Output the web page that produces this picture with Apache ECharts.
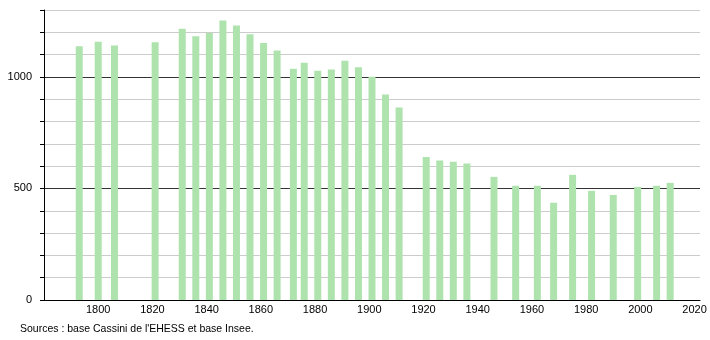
<!DOCTYPE html>
<html>
<head>
<meta charset="utf-8">
<script src="https://cdn.jsdelivr.net/npm/echarts@6/dist/echarts.min.js"></script>
<style>
html,body{margin:0;padding:0;background:#fff;}
#c{width:710px;height:340px;}
</style>
</head>
<body>
<div id="c"></div>
<script>
const years = [1793,1800,1806,1821,1831,1836,1841,1846,1851,1856,1861,1866,1872,1876,1881,1886,1891,1896,1901,1906,1911,1921,1926,1931,1936,1946,1954,1962,1968,1975,1982,1990,1999,2006,2011];
const population = [1137,1158,1141,1155,1216,1182,1197,1253,1231,1191,1152,1119,1037,1064,1028,1033,1072,1043,1001,921,863,641,625,620,612,552,512,512,436,561,489,471,507,512,525];
const yLabels = [0,500,1000];
const xLabels = [1800,1820,1840,1860,1880,1900,1920,1940,1960,1980,2000,2020];
const sourceText = "Sources : base Cassini de l'EHESS et base Insee.";

const chart = echarts.init(document.getElementById('c'), null, {renderer:'canvas'});
const font = 'Liberation Sans, Arial, sans-serif';
chart.setOption({
  animation:false,
  backgroundColor:'#fff',
  grid:{left:44,right:10,top:10,bottom:40,containLabel:false},
  xAxis:{
    type:'value',min:1780,max:2022,interval:20,
    axisLine:{show:true,lineStyle:{color:'#000',width:1}},
    axisTick:{show:false},
    splitLine:{show:false},
    axisLabel:{
      margin:4,fontSize:11,color:'#000',fontFamily:font,
      showMinLabel:false,showMaxLabel:false,
      formatter:v=>xLabels.indexOf(v)>=0?String(v):''
    }
  },
  yAxis:{
    type:'value',min:0,max:1300,interval:100,
    axisLine:{show:true,lineStyle:{color:'#000',width:1}},
    axisTick:{show:true,length:4,lineStyle:{color:'#000'}},
    splitLine:{show:true,lineStyle:{color:['#333','#ccc','#ccc','#ccc','#ccc'],width:1}},
    axisLabel:{
      margin:12,fontSize:11,color:'#000',fontFamily:font,
      formatter:v=>yLabels.indexOf(v)>=0?String(v):''
    }
  },
  series:[{
    type:'bar',
    barWidth:7,
    data:years.map((y,i)=>[y,population[i]]),
    itemStyle:{color:'#aee3ae'}
  }],
  graphic:[{
    type:'text',left:20,top:324,
    style:{text:sourceText,font:'10.5px '+font,fill:'#000'}
  }]
});
</script>
</body>
</html>
